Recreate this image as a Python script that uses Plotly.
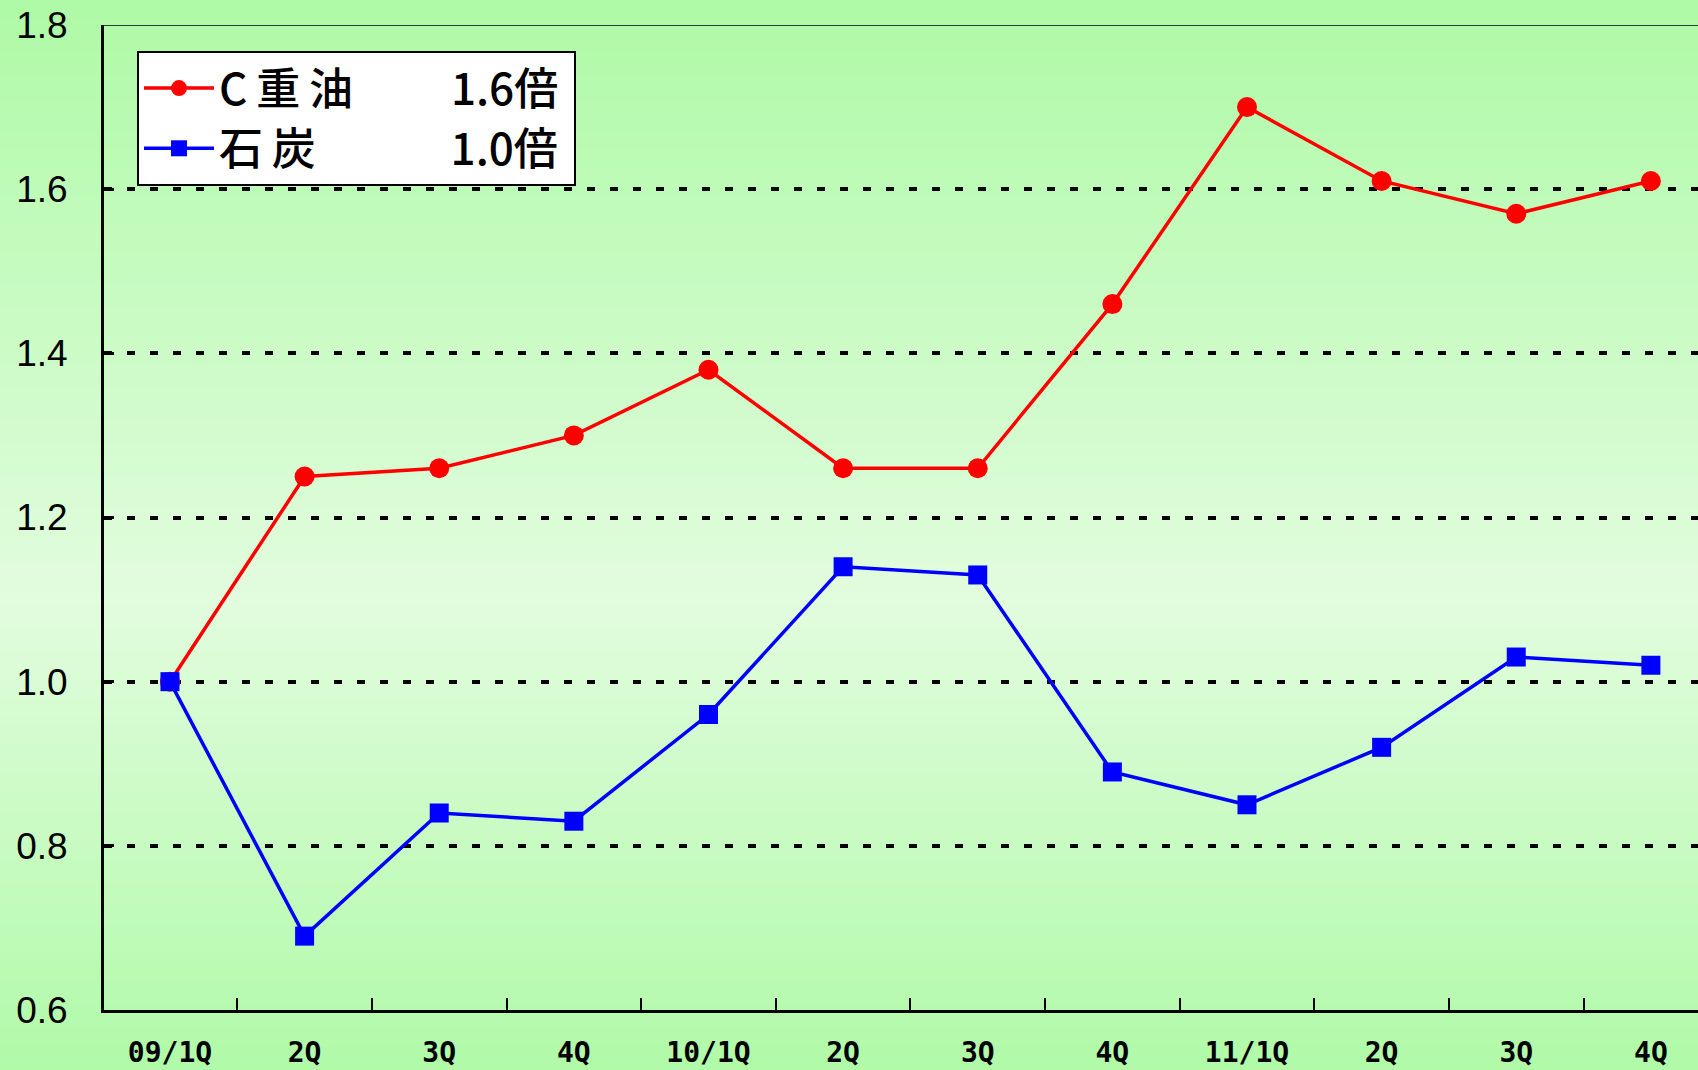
import base64
import struct
import zlib

import plotly.graph_objects as go

# ---- data ----
quarters = ["09/1Q", "2Q", "3Q", "4Q", "10/1Q", "2Q", "3Q", "4Q", "11/1Q", "2Q", "3Q", "4Q"]
heavy_oil = [1.00, 1.25, 1.26, 1.30, 1.38, 1.26, 1.26, 1.46, 1.70, 1.61, 1.57, 1.61]
coal = [1.00, 0.69, 0.84, 0.83, 0.96, 1.14, 1.13, 0.89, 0.85, 0.92, 1.03, 1.02]
oil_label = "C\u2009重\u2009油"
coal_label = "石\u2009炭"
oil_ratio = "1.6倍"
coal_ratio = "1.0倍"
y_ticks = [0.6, 0.8, 1.0, 1.2, 1.4, 1.6, 1.8]

W, H = 1698, 1070
ML, MR, MT, MB = 104, 0, 25, 60
PW, PH = W - ML - MR, H - MT - MB


# ---- vertical gradient background as a PNG ----
def gradient_png(height, stops):
    rows = []
    for yy in range(height):
        t = yy / (height - 1)
        for i in range(len(stops) - 1):
            t0, c0 = stops[i]
            t1, c1 = stops[i + 1]
            if t0 <= t <= t1:
                f = (t - t0) / (t1 - t0)
                c = [round(c0[k] + (c1[k] - c0[k]) * f) for k in range(3)]
                break
        rows.append(b"\x00" + bytes(c * 2))
    raw = b"".join(rows)

    def chunk(tag, data):
        return struct.pack(">I", len(data)) + tag + data + struct.pack(">I", zlib.crc32(tag + data) & 0xFFFFFFFF)

    png = b"\x89PNG\r\n\x1a\n"
    png += chunk(b"IHDR", struct.pack(">IIBBBBB", 2, height, 8, 2, 0, 0, 0))
    png += chunk(b"IDAT", zlib.compress(raw, 9))
    png += chunk(b"IEND", b"")
    return "data:image/png;base64," + base64.b64encode(png).decode()


bg = gradient_png(H, [(0.0, (174, 250, 166)), (0.56, (226, 252, 222)), (1.0, (176, 250, 168))])

x_idx = list(range(len(quarters)))
nb = "\u00a0"
fig = go.Figure()
fig.add_trace(go.Scatter(
    x=x_idx, y=heavy_oil, mode="lines+markers",
    name=oil_label + "\u3000\u3000" + nb + oil_ratio + nb,
    line=dict(color="#ff0000", width=3.5),
    marker=dict(symbol="circle", size=20, color="#ff0000"),
))
fig.add_trace(go.Scatter(
    x=x_idx, y=coal, mode="lines+markers",
    name=coal_label + "\u3000\u3000\u3000\u200a" + coal_ratio + nb,
    line=dict(color="#0000ff", width=3.5),
    marker=dict(symbol="square", size=19, color="#0000ff"),
))

fig.update_layout(
    width=W, height=H,
    margin=dict(l=ML, r=MR, t=MT, b=MB, pad=0),
    paper_bgcolor="#c8fbc0",
    plot_bgcolor="rgba(0,0,0,0)",
    showlegend=True,
    legend=dict(
        x=(137 - ML) / PW, y=(H - MB - 51) / PH, xanchor="left", yanchor="top",
        bgcolor="white", bordercolor="black", borderwidth=2,
        font=dict(family="Noto Sans CJK JP", size=44, color="black", weight=500),
        itemwidth=70, tracegroupgap=0,
    ),
    images=[dict(
        source=bg, xref="paper", yref="paper",
        x=-ML / PW, y=1 + MT / PH, sizex=W / PW, sizey=H / PH,
        xanchor="left", yanchor="top", sizing="stretch", layer="below",
    )],
    xaxis=dict(
        range=[-0.49, 11.35], automargin=False,
        tickmode="array", tickvals=x_idx, ticktext=quarters,
        ticks="", showgrid=False, zeroline=False,
        showline=True, linecolor="black", linewidth=3,
        tickfont=dict(family="DejaVu Sans Mono", size=28, color="black", weight="bold"),
        ticklabelstandoff=15,
        minor=dict(tickmode="array", tickvals=[i + 0.5 for i in range(11)],
                   ticks="inside", ticklen=12, tickwidth=1.5, tickcolor="black", showgrid=False),
    ),
    yaxis=dict(
        range=[0.6, 1.8], automargin=False,
        tickmode="array", tickvals=y_ticks, ticktext=[f"{v:.1f}" for v in y_ticks],
        ticks="inside", ticklen=10, tickwidth=3, tickcolor="black",
        showgrid=True, gridcolor="black", gridwidth=3.5, griddash="8px,15px",
        zeroline=False,
        showline=True, linecolor="black", linewidth=3,
        tickfont=dict(family="Liberation Sans", size=37, color="black"),
        ticklabelstandoff=26,
    ),
    shapes=[dict(type="line", xref="paper", yref="y", x0=0, x1=1, y0=1.8, y1=1.8,
                 line=dict(color="black", width=1.5), layer="below")],
)

fig.write_html(
    "out.html",
    config={"displayModeBar": False},
    post_script="document.body.style.margin='0';document.body.style.overflow='hidden';",
)
